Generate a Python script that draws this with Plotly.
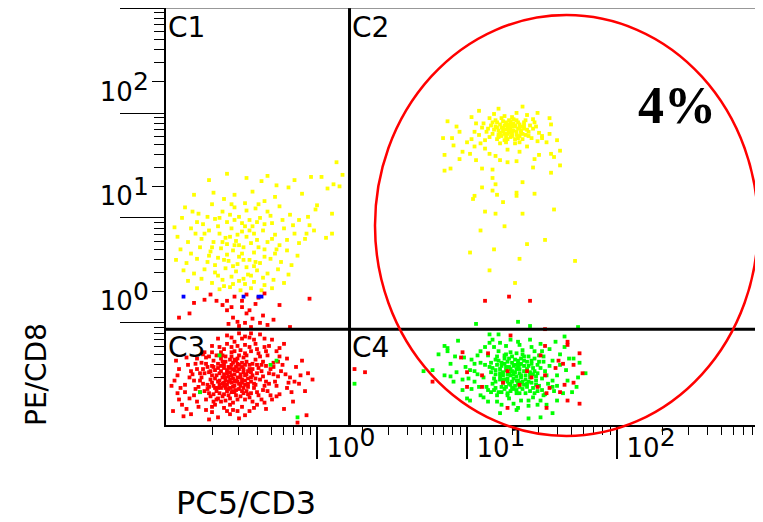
import plotly.graph_objects as go

# ---------------- data (log10 of fluorescence intensity) ----------------
# C3: CD3- CD8- events (red)
C3_RED = [(-0.56,-0.83),(-0.60,-0.78),(-0.52,-0.88),(-0.48,-0.80),(-0.65,-0.85),(-0.58,-0.92),(-0.50,-0.72),(-0.62,-0.70),(-0.70,-0.80),(-0.44,-0.86),
(-0.55,-0.65),(-0.67,-0.95),(-0.47,-0.95),(-0.40,-0.78),(-0.73,-0.72),(-0.59,-0.99),(-0.53,-0.76),(-0.63,-0.88),(-0.57,-0.70),(-0.45,-0.70),
(-0.69,-0.66),(-0.51,-1.00),(-0.42,-0.92),(-0.76,-0.88),(-0.61,-0.62),(-0.49,-0.63),(-0.66,-1.02),(-0.38,-0.84),(-0.72,-0.97),(-0.54,-0.94),
(-0.58,-0.84),(-0.62,-0.79),(-0.50,-0.84),(-0.46,-0.76),(-0.68,-0.75),(-0.56,-0.74),(-0.64,-0.92),(-0.53,-0.69),(-0.60,-0.89),(-0.43,-0.80),
(-0.71,-0.84),(-0.48,-0.89),(-0.57,-0.96),(-0.66,-0.69),(-0.52,-0.61),(-0.39,-0.73),(-0.75,-0.78),(-0.61,-1.04),(-0.45,-1.01),(-0.35,-0.90),
(-0.59,-0.72),(-0.55,-0.86),(-0.63,-0.82),(-0.51,-0.79),(-0.47,-0.67),(-0.69,-0.90),(-0.54,-0.99),(-0.41,-0.65),(-0.74,-0.63),(-0.58,-0.65),
(-0.64,-0.76),(-0.49,-0.74),(-0.56,-0.91),(-0.61,-0.85),(-0.53,-0.82),(-0.67,-0.80),(-0.44,-0.97),(-0.71,-1.00),(-0.37,-0.76),(-0.60,-0.95),
(-0.52,-0.93),(-0.66,-0.86),(-0.46,-0.83),(-0.58,-0.77),(-0.50,-0.68),(-0.62,-0.73),(-0.55,-0.79),(-0.48,-0.85),(-0.65,-0.97),(-0.57,-0.87),
(-0.42,-0.88),(-0.70,-0.71),(-0.54,-0.72),(-0.63,-0.67),(-0.59,-0.81),(-0.51,-0.90),(-0.68,-0.92),(-0.45,-0.74),(-0.77,-0.82),(-0.40,-0.96),
(-0.53,-0.86),(-0.60,-0.75),(-0.56,-0.68),(-0.65,-0.89),(-0.49,-0.97),(-0.72,-0.77),(-0.61,-0.92),(-0.47,-0.79),(-0.58,-1.02),(-0.36,-0.81),
(-0.64,-0.64),(-0.52,-0.74),(-0.69,-0.98),(-0.43,-0.69),(-0.55,-0.96),(-0.62,-0.90),(-0.50,-0.87),(-0.57,-0.62),(-0.73,-0.89),(-0.46,-0.91),
(-0.59,-0.86),(-0.66,-0.73),(-0.53,-0.64),(-0.41,-0.83),(-0.67,-1.03),(-0.55,-0.90),(-0.48,-0.70),(-0.62,-0.98),(-0.70,-0.87),(-0.44,-0.77),
(-0.57,-0.80),(-0.54,-0.85),(-0.61,-0.82),(-0.49,-0.77),(-0.64,-0.71),(-0.52,-0.70),(-0.59,-0.93),(-0.46,-0.88),(-0.68,-0.83),(-0.55,-0.75),
(-0.43,-0.74),(-0.71,-0.76),(-0.50,-0.95),(-0.63,-0.61),(-0.57,-0.58),(-0.47,-0.61),(-0.40,-0.70),(-0.53,-0.52),(-0.45,-0.53),(-0.60,-0.50),
(-0.38,-0.62),(-0.34,-0.57),(-0.42,-0.46),(-0.50,-0.45),(-0.67,-0.61),(-0.74,-0.69),(-0.78,-0.85),(-0.75,-0.95),(-0.69,-1.05),(-0.58,-1.08),
(-0.48,-1.03),(-0.39,-0.99),(-0.34,-0.86),(-0.32,-0.78),(-0.36,-0.94),(-0.65,-0.78),(-0.62,-0.87),(-0.56,-0.95),(-0.51,-0.82),(-0.44,-0.82),
(-0.58,-0.73),(-0.66,-0.92),(-0.72,-0.91),(-0.49,-0.92),(-0.41,-0.89),(-0.54,-0.66),(-0.61,-0.67),(-0.69,-0.72),(-0.76,-0.74),(-0.63,-1.00),
(-0.53,-1.03),(-0.46,-0.98),(-0.37,-0.70),(-0.29,-0.72),(-0.27,-0.90),(-0.55,-0.57),(-0.65,-0.53),(-0.72,-0.62),(-0.81,-0.69),(-0.84,-0.76),
(-0.79,-0.91),(-0.70,-1.10),(-0.56,-1.13),(-0.42,-1.11),(-0.35,-1.06),(-0.27,-1.00),(-0.21,-0.79),(-0.15,-0.86),(-0.26,-0.67),(-0.32,-0.52),
(-0.48,-0.43),(-0.57,-0.44),(-0.35,-0.45),(-0.44,-0.40),(-0.25,-0.54),(-0.88,-0.96),(-0.92,-1.03),(-0.87,-1.12),(-0.93,-0.80),(-0.97,-0.90),
(-0.60,-0.42),(-0.52,-0.40),(-0.45,-0.44),(-0.38,-0.41),(-0.66,-0.45),(-0.30,-0.46),(-0.55,-0.48),(-0.48,-0.51),(-0.41,-0.50),(-0.70,-0.52),
(-0.62,-0.55),(-0.35,-0.53),(-0.27,-0.57),(-0.57,-0.53),(-0.44,-0.57),(-0.75,-0.58),(-0.51,-0.56),(-0.22,-0.50),(-0.33,-0.61),(-0.80,-0.64),
(-0.86,-0.70),(-0.92,-0.74),(-0.83,-0.79),(-0.95,-0.85),(-0.88,-0.89),(-0.81,-0.93),(-0.93,-0.97),(-0.85,-1.02),(-0.90,-1.08),(-0.79,-1.10),
(-0.96,-1.14),(-0.84,-1.17),(-0.74,-1.13),(-0.68,-1.08),(-0.62,-1.11),(-0.56,-1.06),(-0.50,-1.10),(-0.45,-1.14),(-0.58,-1.17),(-0.66,-1.20),
(-0.72,-1.22),(-0.52,-1.21),(-0.40,-1.08),(-0.34,-1.12),(-0.30,-1.03),(-0.25,-0.98),(-0.20,-0.92),(-0.28,-0.86),(-0.18,-0.82),(-0.24,-0.76),
(-0.14,-0.72),(-0.29,-0.68),(-0.20,-0.64),(-0.10,-0.66),(-0.12,-0.88),(-0.06,-0.78),(-0.16,-1.05),(-0.08,-0.95),(-0.03,-0.84),(-0.22,-1.12),
(-0.80,-0.74),(-0.78,-0.96),(-0.77,-0.68),(-0.82,-0.85),(-0.74,-1.03),(-0.31,-0.74),(-0.33,-0.95),(-0.36,-0.67),(-0.26,-0.81),(-0.32,-0.88),
(-0.87,-0.63),(-0.91,-0.92),(-0.85,-0.82),(-0.76,-0.60),(-0.70,-0.58),(-0.64,-0.58),(-0.48,-0.59),(-0.39,-0.59),(-0.29,-0.79),(-0.37,-1.03),
(-0.43,-1.05),(-0.60,-1.14),(-0.70,-1.15),(-0.48,-1.18),(-0.80,-1.05),(-0.89,-1.19),(-0.94,-0.66),(-0.78,-0.78),(-0.25,-0.62),(-0.17,-0.96),
(-0.40,-0.55),(-0.53,-1.14),(-0.64,-1.05),(-0.34,-0.71),(-0.23,-0.70),(-0.31,-0.99),(-0.73,-0.93),(-0.82,-0.99),(-0.11,-0.80),(-0.19,-0.87),
(-0.13,-1.25),(-0.07,-1.18)]

# red events scattered in C1 just above the gate
C1_RED = [(-0.75,-0.08),(-0.67,-0.09),(-0.82,-0.11),(-0.92,-0.25),(-0.85,-0.21),(-0.60,-0.09),(-0.50,-0.15),(-0.47,-0.21),(-0.56,-0.25),(-0.53,-0.29),
(-0.48,-0.30),(-0.43,-0.26),(-0.36,-0.23),(-0.33,-0.32),(-0.25,-0.13),(-0.18,-0.34),(-0.05,-0.07),(-0.60,-0.18),(-0.57,-0.15),(-0.50,-0.09),
(-0.39,-0.06),(-0.45,-0.18),(-0.41,-0.12),(-0.55,-0.05),(-0.63,-0.13),(-0.38,-0.30),(-0.52,-0.33),(-0.44,-0.34),(-0.29,-0.27),(-0.71,-0.03),
(-0.59,-0.31),(-0.47,-0.03),(-0.35,-0.02)]

BLUE = [(-0.89,-0.05),(-0.49,-0.05),(-0.39,-0.05),(-0.37,-0.05)]

# C1: CD3- CD8+ events (yellow)
C1_YELLOW = [(0.17,1.11),(0.13,1.23),(0.03,1.09),(-0.04,1.09),(0.11,1.02),(0.07,0.98),(0.10,0.74),(0.10,0.55),(0.06,0.51),(-0.01,0.78),
(0.00,0.82),(-0.07,0.55),(-0.47,1.08),(-0.33,1.10),(-0.72,1.06),(-0.37,1.05),(-0.27,1.01),(-0.19,0.99),(-0.43,0.95),(-0.55,0.92),
(-0.82,0.92),(-0.69,0.94),(-0.60,1.12),(-0.15,1.06),(0.15,1.00),(-0.28,0.90),(-0.10,0.93),(-0.35,0.86),(-0.62,0.88),
(-0.88,0.80),(-0.90,0.70),(-0.79,0.74),(-0.70,0.83),(-0.63,0.76),(-0.55,0.80),(-0.48,0.84),(-0.41,0.79),(-0.33,0.76),(-0.25,0.81),
(-0.18,0.73),(-0.12,0.68),(-0.05,0.63),(-0.84,0.60),(-0.76,0.64),(-0.68,0.69),(-0.60,0.66),(-0.52,0.71),(-0.45,0.68),(-0.38,0.70),
(-0.30,0.65),(-0.22,0.60),(-0.15,0.55),(-0.08,0.50),(-0.93,0.52),(-0.81,0.55),(-0.72,0.58),(-0.65,0.55),(-0.57,0.60),(-0.50,0.57),
(-0.43,0.62),(-0.36,0.58),(-0.28,0.54),(-0.20,0.49),(-0.86,0.47),(-0.77,0.50),(-0.69,0.47),(-0.61,0.51),(-0.54,0.48),(-0.47,0.52),
(-0.40,0.49),(-0.33,0.47),(-0.25,0.44),(-0.12,0.46),(-0.58,0.73),(-0.50,0.65),(-0.42,0.55),(-0.66,0.62),(-0.73,0.71),(-0.35,0.64),
(-0.47,0.77),(-0.53,0.54),(-0.60,0.45),(-0.44,0.46),(-0.31,0.72),(-0.23,0.68),(-0.16,0.63),(-0.06,0.71),(-0.02,0.58),(-0.39,0.83),
(-0.57,0.83),(-0.80,0.66),(-0.95,0.61),(-0.83,0.76),
(-0.91,0.40),(-0.84,0.36),(-0.78,0.42),(-0.71,0.38),(-0.64,0.41),(-0.56,0.39),(-0.49,0.42),(-0.42,0.37),(-0.35,0.40),(-0.28,0.36),
(-0.20,0.39),(-0.13,0.34),(-0.94,0.30),(-0.87,0.27),(-0.80,0.31),(-0.73,0.28),(-0.66,0.32),(-0.59,0.29),(-0.52,0.33),(-0.45,0.30),
(-0.38,0.27),(-0.31,0.31),(-0.24,0.28),(-0.17,0.25),(-0.89,0.20),(-0.82,0.17),(-0.75,0.21),(-0.68,0.18),(-0.61,0.22),(-0.54,0.19),
(-0.47,0.23),(-0.40,0.20),(-0.33,0.17),(-0.26,0.21),(-0.19,0.16),(-0.86,0.10),(-0.77,0.12),(-0.70,0.08),(-0.63,0.11),(-0.56,0.07),
(-0.49,0.12),(-0.42,0.09),(-0.35,0.06),(-0.29,0.11),(-0.22,0.08),(-0.80,0.03),(-0.65,0.02),(-0.58,0.04),(-0.51,0.01),(-0.44,0.03),
(-0.37,0.01),(-0.30,0.03),(-0.60,0.35),(-0.53,0.26),(-0.46,0.16),(-0.57,0.14),(-0.68,0.25),(-0.41,0.28),(-0.50,0.36),(-0.62,0.05),
(-0.72,0.34),(-0.36,0.13),(-0.55,0.44),(-0.48,0.07),(-0.66,0.15),
(-0.52,0.44),(-0.45,0.58),(-0.58,0.52),(-0.39,0.42),(-0.63,0.47),(-0.49,0.30),(-0.56,0.24),(-0.42,0.24),(-0.35,0.33),(-0.62,0.30),
(-0.70,0.42),(-0.48,0.62),(-0.40,0.66),(-0.55,0.68),(-0.30,0.50),(-0.65,0.70),(-0.75,0.55),(-0.27,0.40),(-0.44,0.15),(-0.52,0.10)]

# C2: CD3+ CD8+ events (yellow)
C2_YELLOW = [(1.29,1.55),(1.25,1.58),(1.33,1.52),(1.21,1.53),(1.37,1.57),(1.27,1.50),(1.31,1.60),(1.23,1.48),(1.35,1.48),(1.19,1.57),
(1.40,1.54),(1.28,1.63),(1.17,1.50),(1.32,1.45),(1.24,1.62),(1.38,1.61),(1.20,1.45),(1.30,1.57),(1.26,1.54),(1.34,1.55),
(1.22,1.59),(1.36,1.51),(1.29,1.47),(1.18,1.54),(1.42,1.58),(1.27,1.59),(1.33,1.63),(1.15,1.47),(1.39,1.49),(1.25,1.44),
(1.31,1.53),(1.28,1.51),(1.23,1.56),(1.35,1.59),(1.20,1.61),(1.37,1.45),(1.26,1.47),(1.32,1.57),(1.16,1.58),(1.41,1.52),
(1.30,1.50),(1.24,1.52),(1.34,1.61),(1.21,1.49),(1.38,1.55),(1.27,1.56),(1.29,1.62),(1.19,1.63),(1.43,1.46),(1.13,1.52),
(1.10,1.56),(1.08,1.49),(1.46,1.57),(1.48,1.51),(1.12,1.44),(1.44,1.64),(1.06,1.60),(1.35,1.42),(1.22,1.41),(1.30,1.66),
(1.25,1.67),(1.40,1.68),(1.15,1.65),(1.05,1.52),(1.50,1.48),(1.03,1.45),(1.47,1.43),(1.18,1.69),(1.33,1.70),(1.09,1.41),
(1.28,1.53),(1.32,1.58),(1.24,1.55),(1.36,1.53),(1.30,1.48),(1.26,1.61),(1.22,1.51),(1.34,1.46),(1.29,1.59),(1.38,1.58),
(1.20,1.56),(1.27,1.45),(1.33,1.49),(1.31,1.64),(1.17,1.61),(1.39,1.63),(1.23,1.65),(1.41,1.48),(1.14,1.55),(1.44,1.55),
(1.30,1.53),(1.25,1.50),(1.35,1.56),(1.28,1.57),(1.21,1.47),(1.37,1.50),(1.11,1.60),(1.45,1.61),(1.26,1.42),(1.32,1.41),
(1.37,1.76),(1.03,1.66),(0.87,1.62),(0.84,1.46),(0.85,1.30),(0.95,1.26),(1.06,1.25),(1.58,1.28),(1.62,1.34),(1.56,1.31),
(1.48,1.30),(1.45,1.26),(1.56,1.59),(1.53,1.42),(1.50,1.46),(1.19,1.29),(1.15,1.31),(0.97,1.33),(1.02,1.31),(0.91,1.39),
(0.90,1.46),(1.22,1.25),(1.00,1.42),(0.95,1.52),(1.12,1.36),(1.27,1.35),(1.40,1.38),(1.55,1.50),(1.60,1.44),(1.08,1.72),
(1.21,1.74),(1.47,1.70),(1.55,1.65),(0.93,1.57),(1.35,1.33),(1.05,1.38),
(0.85,1.15),(0.89,1.17),(1.10,1.17),(1.17,1.16),(1.17,1.08),(1.19,1.02),(1.10,0.99),(1.17,0.96),(1.20,0.92),(1.05,0.91),
(1.04,0.88),(1.24,0.85),(1.33,0.94),(1.33,0.91),(1.37,1.04),(1.45,0.93),(1.44,1.18),(1.56,1.13),(1.62,1.20),(1.33,1.24),
(1.27,1.23),(1.12,0.76),(1.19,0.74),(1.37,0.74),(1.58,0.78),(1.09,0.58),(1.35,0.31),(1.72,0.29),(1.15,0.20),(1.32,0.08),
(1.02,0.37),(1.52,0.49),(1.25,0.62),(1.40,0.45),(1.18,0.40)]

C2_RED = [(1.12,-0.09),(1.42,-0.09),(1.28,-0.05)]

# C4: CD3+ CD8- events (green)
C4_GREEN = [(1.32,-0.77),(1.28,-0.72),(1.36,-0.82),(1.24,-0.80),(1.40,-0.74),(1.30,-0.86),(1.20,-0.70),(1.44,-0.79),(1.34,-0.66),(1.26,-0.91),
(1.38,-0.89),(1.22,-0.84),(1.47,-0.70),(1.30,-0.62),(1.16,-0.77),(1.42,-0.95),(1.35,-0.74),(1.27,-0.67),(1.50,-0.83),(1.19,-0.92),
(1.33,-0.94),(1.25,-0.61),(1.45,-0.64),(1.39,-0.80),(1.29,-0.80),(1.21,-0.66),(1.48,-0.90),(1.36,-0.69),(1.31,-0.71),(1.23,-0.96),
(1.41,-0.86),(1.18,-0.83),(1.52,-0.76),(1.34,-0.85),(1.26,-0.75),(1.43,-0.69),(1.37,-0.93),(1.28,-0.88),(1.15,-0.72),(1.46,-0.85),
(1.33,-0.59),(1.24,-0.87),(1.40,-0.67),(1.29,-0.95),(1.54,-0.88),(1.20,-0.62),(1.35,-0.78),(1.31,-0.83),(1.44,-0.92),(1.17,-0.88),
(1.38,-0.71),(1.27,-0.79),(1.49,-0.73),(1.22,-0.74),(1.36,-0.64),(1.32,-0.90),(1.42,-0.82),(1.25,-0.69),(1.30,-0.76),(1.19,-0.79),
(1.47,-0.95),(1.34,-0.72),(1.39,-0.97),(1.23,-0.91),(1.51,-0.67),(1.28,-0.64),(1.37,-0.86),(1.21,-0.96),(1.45,-0.76),(1.33,-0.81),
(1.26,-0.84),(1.41,-0.62),(1.16,-0.68),(1.53,-0.80),(1.30,-0.68),(1.35,-0.91),(1.24,-0.77),(1.43,-0.87),(1.29,-0.74),(1.38,-0.76),
(1.18,-0.94),(1.48,-0.61),(1.32,-0.65),(1.27,-0.97),(1.40,-0.91),(1.22,-0.81),(1.36,-0.87),(1.44,-0.73),(1.31,-0.93),(1.25,-0.64),
(1.34,-0.69),(1.19,-0.75),(1.46,-0.81),(1.29,-0.89),(1.37,-0.60),(1.23,-0.71),(1.50,-0.94),(1.33,-0.74),(1.42,-0.77),(1.27,-0.83),
(1.31,-0.79),(1.27,-0.86),(1.35,-0.70),(1.23,-0.68),(1.39,-0.84),(1.43,-0.66),(1.19,-0.86),(1.25,-0.93),(1.33,-0.97),(1.47,-0.78),
(1.29,-0.58),(1.37,-0.56),(1.21,-0.57),(1.45,-0.57),(1.51,-0.62),(1.55,-0.71),(1.57,-0.85),(1.52,-0.98),(1.44,-1.01),(1.36,-1.04),
(1.28,-1.02),(1.20,-0.99),(1.13,-0.91),(1.11,-0.82),(1.12,-0.70),(1.14,-0.61),(1.18,-0.53),(1.26,-0.52),(1.35,-0.51),(1.43,-0.53),
(1.32,-0.70),(1.38,-0.66),(1.26,-0.72),(1.30,-0.92),(1.40,-0.88),(1.22,-0.78),(1.46,-0.89),(1.34,-0.88),(1.24,-0.84),(1.41,-0.71),
(1.07,-0.79),(1.05,-0.69),(1.09,-0.57),(1.16,-0.96),(1.23,-1.08),(1.31,-1.07),(1.41,-1.09),(1.49,-1.04),(1.58,-0.95),(1.62,-0.60),
(1.55,-0.55),(1.03,-0.93),(0.99,-0.72),(0.93,-0.77),(0.92,-0.62),(1.60,-0.90),(1.66,-0.75),(1.68,-0.64),(1.50,-0.57),(1.38,-0.62),
(1.36,-0.80),(1.28,-0.78),(1.33,-0.85),(1.42,-0.79),(1.26,-0.60),(1.19,-0.65),(1.17,-0.73),(1.48,-0.67),(1.45,-0.97),(1.14,-1.05),
(0.71,-0.76),(0.77,-0.75),(0.81,-0.60),(0.87,-0.54),(0.87,-0.57),(0.85,-0.80),(0.89,-0.81),(0.89,-0.69),(0.91,-0.86),(0.97,-0.84),
(0.97,-0.94),(1.00,-1.02),(1.02,-1.04),(1.05,-0.76),(1.09,-0.99),(1.11,-1.01),(1.15,-0.41),(1.21,-0.41),(1.17,-0.46),(1.22,-1.16),
(1.33,-1.13),(1.41,-1.21),(1.49,-1.20),(1.57,-1.16),(1.53,-1.08),(1.47,-1.08),(1.60,-1.04),(1.64,-0.97),(1.70,-0.96),(1.73,-0.91),
(1.74,-0.82),(1.79,-0.78),(1.75,-0.68),(1.71,-0.64),(1.65,-0.53),(1.65,-0.43),(1.59,-0.48),(1.49,-0.50),(1.42,-0.46),(1.34,-0.48),
(1.29,-0.46),(1.34,-1.11),(1.27,-0.99),(1.08,-0.91),(1.09,-0.68),(1.02,-0.75),(1.07,-0.61),(1.12,-0.53),(1.15,-0.49),(1.22,-0.49),
(0.98,-0.63),(0.94,-0.47),(0.85,-0.52),(1.03,-0.65),(1.01,-0.83),(1.05,-0.86),(1.57,-0.91),(1.60,-0.80),(1.62,-0.70),(1.57,-0.66),
(1.67,-0.85),(1.51,-0.99),(1.41,-1.04),(1.35,-0.97),(1.20,-1.05),(1.14,-0.94),
(1.06,-0.31),(1.34,-0.29),(1.42,-0.33),(1.74,-0.34),
(0.25,-0.88),(-0.65,-0.61),(-0.27,-0.66),(-0.31,-0.70),(-0.78,-0.96),(-0.13,-1.20)]

C4_RED = [(0.97,-0.58),(0.96,-0.63),(1.00,-0.77),(1.14,-0.59),(1.10,-0.80),(1.00,-0.91),(0.77,-0.86),(1.24,-0.87),(1.27,-0.76),(1.40,-0.76),
(1.49,-0.61),(1.52,-0.80),(1.59,-0.73),(1.61,-0.66),(1.64,-0.69),(1.71,-0.70),(1.75,-0.59),(1.77,-0.78),(1.71,-0.87),(1.65,-0.89),
(1.62,-0.96),(1.67,-1.04),(1.75,-1.07),(1.55,-0.92),(1.47,-0.91),(1.53,-0.97),(1.29,-0.42),(1.67,-0.48),(1.67,-0.51),(1.52,-0.52),
(1.27,-1.11),(1.53,-1.11),(1.10,-0.91),(1.35,-0.89),(1.43,-0.82),(1.52,-0.36),(0.25,-0.74),(0.32,-0.77)]

# gate thresholds, axis ticks
Q_X = 1.647          # vertical quadrant divider (PC5/CD3)
Q_Y = 0.436          # horizontal quadrant divider (PE/CD8)
X_TICKS = [1, 10, 100]
Y_TICKS = [1, 10, 100]
TICK_EXP = ["0", "1", "2"]
Y_DECADES = [0.05, 0.5, 5, 50, 500]
QUAD_LABELS = ["C1", "C2", "C3", "C4"]
PERCENT_TEXT = "4%"

X_MINOR = [m * d for d in (0.1, 1, 10, 100) for m in range(2, 10)]
Y_MINOR = [m * d for d in Y_DECADES[:-1] for m in range(2, 10) if m != 2]

FONT = "DejaVu Sans"
SUP = '10<sup><span style="font-size:25px">{}</span></sup>'


def tr(points, color, name):
    return go.Scatter(
        x=[10 ** p[0] for p in points], y=[10 ** p[1] for p in points],
        mode="markers", name=name, hoverinfo="skip",
        marker=dict(symbol="square", size=3.8, color=color, line=dict(width=0)),
    )


fig = go.Figure()
fig.add_trace(tr(C1_YELLOW, "#FFFF00", "C1"))
fig.add_trace(tr(C2_YELLOW, "#FFFF00", "C2"))
fig.add_trace(tr(C1_RED, "#FF0000", "C1 red"))
fig.add_trace(tr(C3_RED, "#FF0000", "C3"))
fig.add_trace(tr(C4_GREEN, "#00FF00", "C4"))
fig.add_trace(tr(C4_RED, "#FF0000", "C4 red"))
fig.add_trace(tr(C2_RED, "#FF0000", "C2 red"))
fig.add_trace(tr(BLUE, "#0000FF", "blue"))

# quadrant dividers
fig.add_trace(go.Scatter(x=[0.05, 2000], y=[Q_Y, Q_Y], mode="lines",
                         line=dict(color="black", width=3), hoverinfo="skip"))
fig.add_trace(go.Scatter(x=[Q_X, Q_X], y=[0.01, 5000], mode="lines", yaxis="y2",
                         line=dict(color="black", width=3), hoverinfo="skip"))

xr = [-1.0067, 2.973]
yr = [-1.273, 2.6992]

# the page body has an 8px margin; the figure is sized so the plot lands where the reference has it
PW, PH = 597, 417
fig.update_layout(
    width=755, height=514,
    margin=dict(l=158, r=0, t=0, b=97, autoexpand=False),
    paper_bgcolor="white", plot_bgcolor="white",
    showlegend=False,
    font=dict(family=FONT, color="black"),
    xaxis=dict(
        type="log", range=xr, showgrid=False, zeroline=False, automargin=False,
        showline=True, linecolor="black", linewidth=2,
        tickmode="array", tickvals=X_TICKS, ticktext=[SUP.format(e) for e in TICK_EXP],
        ticks="outside", ticklen=32, tickwidth=1.5, tickcolor="black",
        tickfont=dict(family=FONT, size=26, color="black"),
        ticklabelshift=34, ticklabelstandoff=-33,
        minor=dict(tickmode="array", tickvals=X_MINOR, ticks="outside",
                   ticklen=8, tickwidth=1, tickcolor="black", showgrid=False),
    ),
    yaxis=dict(
        type="log", range=yr, showgrid=False, zeroline=False, automargin=False,
        showline=True, linecolor="black", linewidth=2,
        tickmode="array", tickvals=Y_TICKS, ticktext=[SUP.format(e) for e in TICK_EXP],
        ticks="outside", ticklen=12, tickwidth=1.2, tickcolor="black",
        tickfont=dict(family=FONT, size=26, color="black"),
        ticklabelshift=10, ticklabelstandoff=-2,
        minor=dict(tickmode="array", tickvals=Y_MINOR, ticks="outside",
                   ticklen=10, tickwidth=1, tickcolor="black", showgrid=False),
    ),
    yaxis2=dict(
        type="log", range=yr, overlaying="y", side="left", anchor="x", automargin=False,
        showgrid=False, zeroline=False, showline=False, showticklabels=False,
        tickmode="array", tickvals=Y_DECADES, ticks="outside", ticklen=45,
        tickwidth=1.2, tickcolor="black",
    ),
)


def px2paper(px, py):
    # page pixel position of the plot frame: left 166, bottom 425
    return (px - 166) / PW, (425 - py) / PH


# top frame line
fig.add_shape(type="line", xref="paper", yref="paper", x0=0, x1=1, y0=1, y1=1,
              line=dict(color="#333333", width=1))

# gate ellipse
ex0, ey0 = px2paper(375, 436)
ex1, ey1 = px2paper(758, 15)
fig.add_shape(type="circle", xref="paper", yref="paper",
              x0=ex0, x1=ex1, y0=ey0, y1=ey1,
              line=dict(color="#FF0000", width=2.5), layer="above")

# quadrant labels
for txt, (lx, ly) in zip(QUAD_LABELS, [(166, 27), (350, 27), (166, 347), (350, 347)]):
    xp, yp = px2paper(lx, ly)
    fig.add_annotation(text=txt, xref="paper", yref="paper", x=xp, y=yp,
                       xanchor="left", yanchor="middle", showarrow=False,
                       font=dict(family=FONT, size=28, color="black"))

xp, yp = px2paper(677, 106)
fig.add_annotation(text=f"<b>{PERCENT_TEXT}</b>", xref="paper", yref="paper", x=xp, y=yp,
                   xanchor="center", yanchor="middle", showarrow=False,
                   font=dict(family="Liberation Serif", size=52, color="black"))

# axis titles
xp, yp = px2paper(246, 503)
fig.add_annotation(text="PC5/CD3", xref="paper", yref="paper", x=xp, y=yp,
                   xanchor="center", yanchor="middle", showarrow=False,
                   font=dict(family=FONT, size=32, color="black"))
xp, yp = px2paper(36, 375)
fig.add_annotation(text="PE/CD8", xref="paper", yref="paper", x=xp, y=yp,
                   xanchor="center", yanchor="middle", showarrow=False, textangle=-90,
                   font=dict(family=FONT, size=28, color="black"))

fig.write_html("out.html")
